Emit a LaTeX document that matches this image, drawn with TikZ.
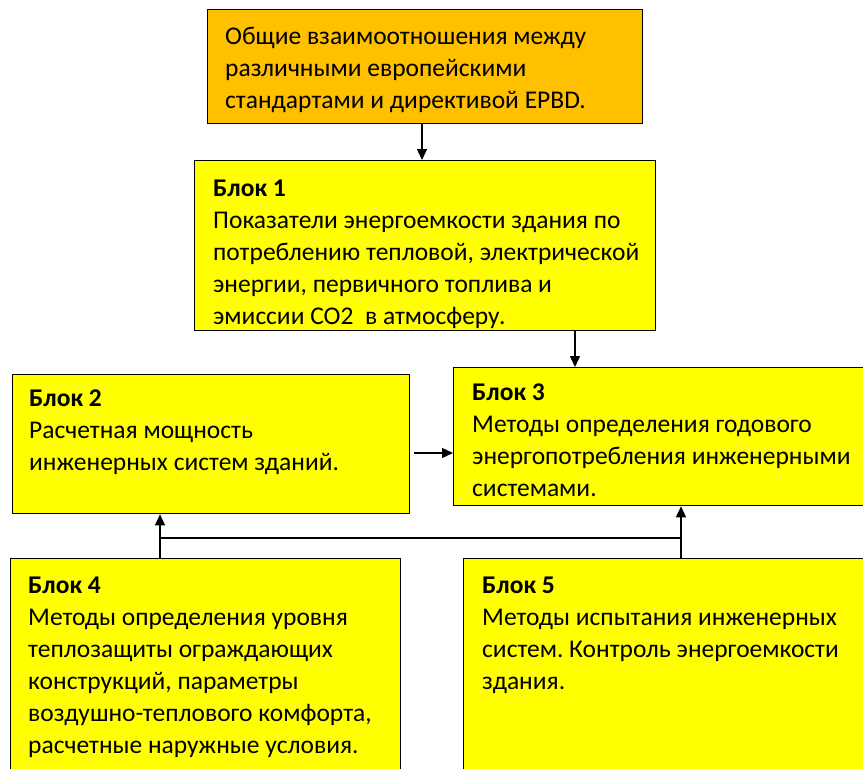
\documentclass[tikz,border=0pt]{standalone}
\usepackage{fontspec}
\setmainfont{Carlito}
\usetikzlibrary{arrows.meta}
\definecolor{boxorange}{HTML}{FFC000}
\definecolor{boxyellow}{HTML}{FFFF00}
\frenchspacing
\tikzset{
  blockbox/.style={draw=black, line width=1.3pt, anchor=north west, inner sep=0pt},
  blocktext/.style={anchor=north west, inner sep=0pt, align=left,
    font=\fontsize{25.5}{32}\selectfont},
  conn/.style={line width=1.3pt, draw=black},
  arr/.style={conn, -{Triangle[length=11pt,width=10pt]}}
}
\begin{document}
\begin{tikzpicture}[x=1pt,y=-1pt]
\clip (0,0) rectangle (863,769);
\fill[white] (0,0) rectangle (863,769);
% boxes
\node[blockbox, fill=boxorange, minimum width=435pt, minimum height=114pt] (top) at (207,9) {};
\node[blockbox, fill=boxyellow, minimum width=461pt, minimum height=170pt] (b1) at (194,160) {};
\node[blockbox, fill=boxyellow, minimum width=397pt, minimum height=139pt] (b2) at (12,374) {};
\node[blockbox, fill=boxyellow, minimum width=430pt, minimum height=138pt] (b3) at (453,367) {};
\node[blockbox, fill=boxyellow, minimum width=390pt, minimum height=240pt] (b4) at (10,558) {};
\node[blockbox, fill=boxyellow, minimum width=430pt, minimum height=240pt] (b5) at (463,558) {};
% texts (baseline of first line minus strut height 22.4)
\node[blocktext] (ttop) at (225,21.6) {\strut Общие взаимоотношения между\\различными европейскими\\стандартами и директивой EPBD.};
\node[blocktext] (t1) at (213,173.6) {\strut\textbf{Блок 1}\\Показатели энергоемкости здания по\\потреблению тепловой, электрической\\энергии, первичного топлива и\\эмиссии CO2~ в атмосферу.};
\node[blocktext] (t2) at (29,383.6) {\strut\textbf{Блок 2}\\Расчетная мощность\\инженерных систем зданий.};
\node[blocktext] (t3) at (472,377.6) {\strut\textbf{Блок 3}\\Методы определения годового\\энергопотребления инженерными\\системами.};
\node[blocktext] (t4) at (28,570.6) {\strut\textbf{Блок 4}\\Методы определения уровня\\теплозащиты ограждающих\\конструкций, параметры\\воздушно-теплового комфорта,\\расчетные наружные условия.};
\node[blocktext] (t5) at (482,570.6) {\strut\textbf{Блок 5}\\Методы испытания инженерных\\систем. Контроль энергоемкости\\здания.};
% connectors
\draw[arr] (top.south -| 422,0) -- (b1.north -| 422,0);
\draw[arr] (b1.south -| 575,0) -- (b3.north -| 575,0);
\draw[arr] (b2.east |- 0,453) ++(4,0) -- (b3.west |- 0,453);
\coordinate (jl) at (160,538);
\coordinate (jr) at (681,538);
\draw[arr] (b4.north -| jl) -- (b2.south -| jl);
\draw[arr] (b5.north -| jr) -- (b3.south -| jr);
\draw[conn] (jl) -- (jr);
\end{tikzpicture}
\end{document}
